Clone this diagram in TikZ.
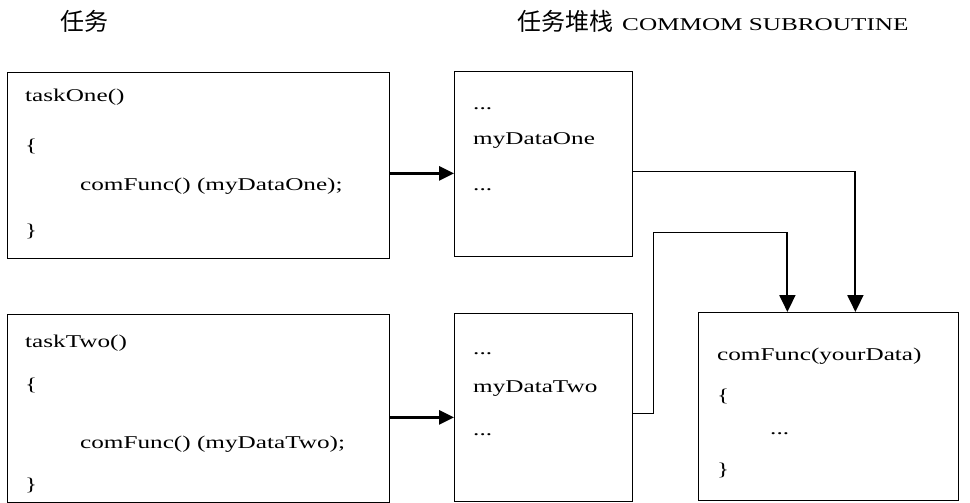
\documentclass[tikz,border=0pt]{standalone}
\usepackage{fontspec}
\setmainfont{Liberation Serif}[FakeStretch=1.4]
\newfontfamily\cjk{Noto Sans CJK SC}
\usetikzlibrary{arrows.meta}
\tikzset{
  box/.style={draw=black, line width=0.8pt, fill=white, inner sep=0pt, anchor=north west},
  txt/.style={font=\fontsize{18pt}{20pt}\selectfont, inner sep=0pt, anchor=base west},
  head/.style={font=\fontsize{18pt}{20pt}\selectfont, inner sep=0pt, anchor=west},
  feed/.style={line width=2.8pt, -{Triangle[length=15pt,width=14pt]}},
  thinconn/.style={line width=1pt},
  drop/.style={line width=2pt, -{Triangle[length=17pt,width=16pt]}}
}
\begin{document}
\begin{tikzpicture}[x=1pt,y=1pt]
\useasboundingbox (0,0) rectangle (970,-503);
% headers
\node[head] (h1) at (60,-21) {\cjk\fontsize{24pt}{26pt}\selectfont 任务};
\node[head] (h2) at (517,-21) {{\cjk\fontsize{24pt}{26pt}\selectfont 任务堆栈}\hspace{9pt}COMMOM SUBROUTINE};
% boxes
\node[box, minimum width=382pt, minimum height=186pt] (t1) at (7,-72) {};
\node[box, minimum width=178pt, minimum height=185pt] (s1) at (454,-71) {};
\node[box, minimum width=382pt, minimum height=188pt] (t2) at (7,-314) {};
\node[box, minimum width=178pt, minimum height=188pt] (s2) at (454,-313) {};
\node[box, minimum width=260pt, minimum height=188pt] (c) at (698,-312) {};
% texts task one
\node[txt] (t1a) at (25,-102) {taskOne()};
\node[txt] (t1b) at (25,-151) {\{};
\node[txt] (t1c) at (80,-190) {comFunc() (myDataOne);};
\node[txt] (t1d) at (25,-236) {\}};
% texts task two
\node[txt] (t2a) at (25,-347) {taskTwo()};
\node[txt] (t2b) at (25,-390) {\{};
\node[txt] (t2c) at (80,-448) {comFunc() (myDataTwo);};
\node[txt] (t2d) at (25,-490) {\}};
% stack one
\node[txt] (s1a) at (473,-110) {...};
\node[txt] (s1b) at (473,-144) {myDataOne};
\node[txt] (s1c) at (473,-190) {...};
% stack two
\node[txt] (s2a) at (473,-354) {...};
\node[txt] (s2b) at (473,-392) {myDataTwo};
\node[txt] (s2c) at (473,-435) {...};
% common
\node[txt] (ca) at (717,-360) {comFunc(yourData)};
\node[txt] (cb) at (717,-401) {\{};
\node[txt] (cc) at (770,-434) {...};
\node[txt] (cd) at (717,-475) {\}};
% connectors
\draw[feed] ([yshift=-8pt]t1.east) -- ([yshift=-8pt]t1.east -| s1.west);
\draw[feed] ([yshift=-9pt]t2.east) -- ([yshift=-9pt]t2.east -| s2.west);
\coordinate (s1o) at ([yshift=-7.5pt]s1.east);
\coordinate (c1i) at ([xshift=27pt]c.north);
\draw[thinconn] (s1o) -- (s1o -| c1i);
\draw[drop] (s1o -| c1i) -- (c1i);
\coordinate (s2o) at ([yshift=-6pt]s2.east);
\coordinate (j) at (653,-232);
\coordinate (c2i) at ([xshift=-41pt]c.north);
\draw[thinconn] (s2o) -| (j) -- (j -| c2i);
\draw[drop] (j -| c2i) -- (c2i);
\end{tikzpicture}
\end{document}
